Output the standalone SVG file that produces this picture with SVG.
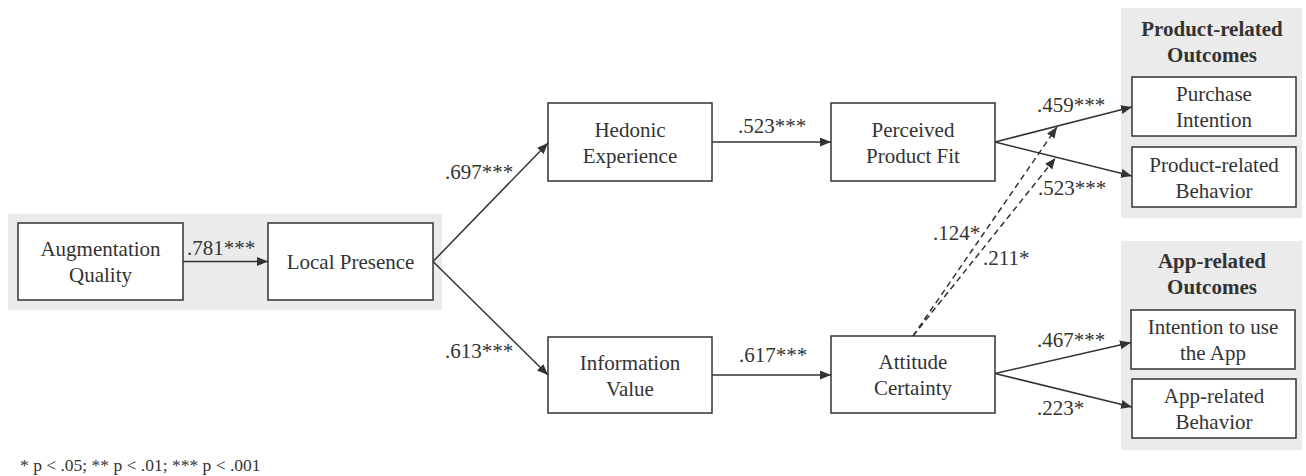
<svg xmlns="http://www.w3.org/2000/svg" width="1306" height="476" viewBox="0 0 1306 476">
<style>
  text { font-family: "Liberation Serif", "Times New Roman", serif; font-size: 21px; fill: #333; }
  .c { text-anchor: middle; }
  .b { font-weight: bold; }
  .box { fill: #fff; stroke: #333; stroke-width: 1.5; }
  .panel { fill: #ebebeb; stroke: none; }
  .edge { fill: none; stroke: #333; stroke-width: 1.5; marker-end: url(#arr); }
  .dash { stroke-dasharray: 6 4; }
  .foot { font-size: 17.5px; }
</style>
<defs>
  <marker id="arr" markerUnits="userSpaceOnUse" markerWidth="12" markerHeight="10" refX="11" refY="4.5" orient="auto">
    <path d="M0,0 L11,4.5 L0,9 Z" fill="#333"/>
  </marker>
</defs>
<rect width="1306" height="476" fill="#fff"/>
<g id="panels">
  <rect class="panel" x="8" y="214" width="434" height="96"/>
  <rect class="panel" x="1121" y="8" width="181" height="210"/>
  <rect class="panel" x="1121" y="241" width="181" height="209"/>
  <text class="c b" x="1212" y="36">Product-related</text>
  <text class="c b" x="1212" y="62">Outcomes</text>
  <text class="c b" x="1212" y="268">App-related</text>
  <text class="c b" x="1212" y="294">Outcomes</text>
</g>
<g id="connectors">
  <path class="edge" d="M183,261.5 L268,261.5"/>
  <path class="edge" d="M433,261.5 L548,143"/>
  <path class="edge" d="M433,261.5 L548,375"/>
  <path class="edge" d="M712,142 L831,142"/>
  <path class="edge" d="M712,375 L831,375"/>
  <path class="edge" d="M995,142 L1132,107"/>
  <path class="edge" d="M995,142 L1132,176"/>
  <path class="edge" d="M995,373.5 L1131,342.5"/>
  <path class="edge" d="M995,373.5 L1132,407"/>
  <path class="edge dash" d="M913,336 L1057,127"/>
  <path class="edge dash" d="M913,336 L1055.5,158"/>
  <text x="187" y="255">.781***</text>
  <text x="445" y="179">.697***</text>
  <text x="445" y="358">.613***</text>
  <text x="738" y="133">.523***</text>
  <text x="739" y="362">.617***</text>
  <text x="1037" y="112">.459***</text>
  <text x="1038" y="195">.523***</text>
  <text x="933" y="240">.124*</text>
  <text x="983" y="265">.211*</text>
  <text x="1037" y="347">.467***</text>
  <text x="1037" y="415">.223*</text>
</g>
<g id="augmentation-quality">
  <rect class="box" x="18" y="223" width="165" height="77"/>
  <text class="c" x="100.5" y="256">Augmentation</text>
  <text class="c" x="100.5" y="282">Quality</text>
</g>
<g id="local-presence">
  <rect class="box" x="268" y="223" width="165" height="77"/>
  <text class="c" x="350.5" y="269">Local Presence</text>
</g>
<g id="hedonic-experience">
  <rect class="box" x="548" y="103" width="164" height="78"/>
  <text class="c" x="630" y="136.5">Hedonic</text>
  <text class="c" x="630" y="162.5">Experience</text>
</g>
<g id="information-value">
  <rect class="box" x="548" y="337" width="164" height="76"/>
  <text class="c" x="630" y="369.5">Information</text>
  <text class="c" x="630" y="395.5">Value</text>
</g>
<g id="perceived-product-fit">
  <rect class="box" x="831" y="103" width="164" height="78"/>
  <text class="c" x="913" y="136.5">Perceived</text>
  <text class="c" x="913" y="162.5">Product Fit</text>
</g>
<g id="attitude-certainty">
  <rect class="box" x="831" y="336" width="164" height="77"/>
  <text class="c" x="913" y="369">Attitude</text>
  <text class="c" x="913" y="395">Certainty</text>
</g>
<g id="purchase-intention">
  <rect class="box" x="1132" y="77" width="164" height="59"/>
  <text class="c" x="1214" y="101">Purchase</text>
  <text class="c" x="1214" y="127">Intention</text>
</g>
<g id="product-related-behavior">
  <rect class="box" x="1132" y="147" width="164" height="60"/>
  <text class="c" x="1214" y="171.5">Product-related</text>
  <text class="c" x="1214" y="197.5">Behavior</text>
</g>
<g id="intention-to-use-app">
  <rect class="box" x="1131" y="310" width="164" height="59"/>
  <text class="c" x="1213" y="334">Intention to use</text>
  <text class="c" x="1213" y="360">the App</text>
</g>
<g id="app-related-behavior">
  <rect class="box" x="1132" y="379" width="164" height="59"/>
  <text class="c" x="1214" y="403">App-related</text>
  <text class="c" x="1214" y="429">Behavior</text>
</g>
<g id="footnote">
  <text class="foot" x="20" y="471">* p &lt; .05; ** p &lt; .01; *** p &lt; .001</text>
</g>
</svg>
